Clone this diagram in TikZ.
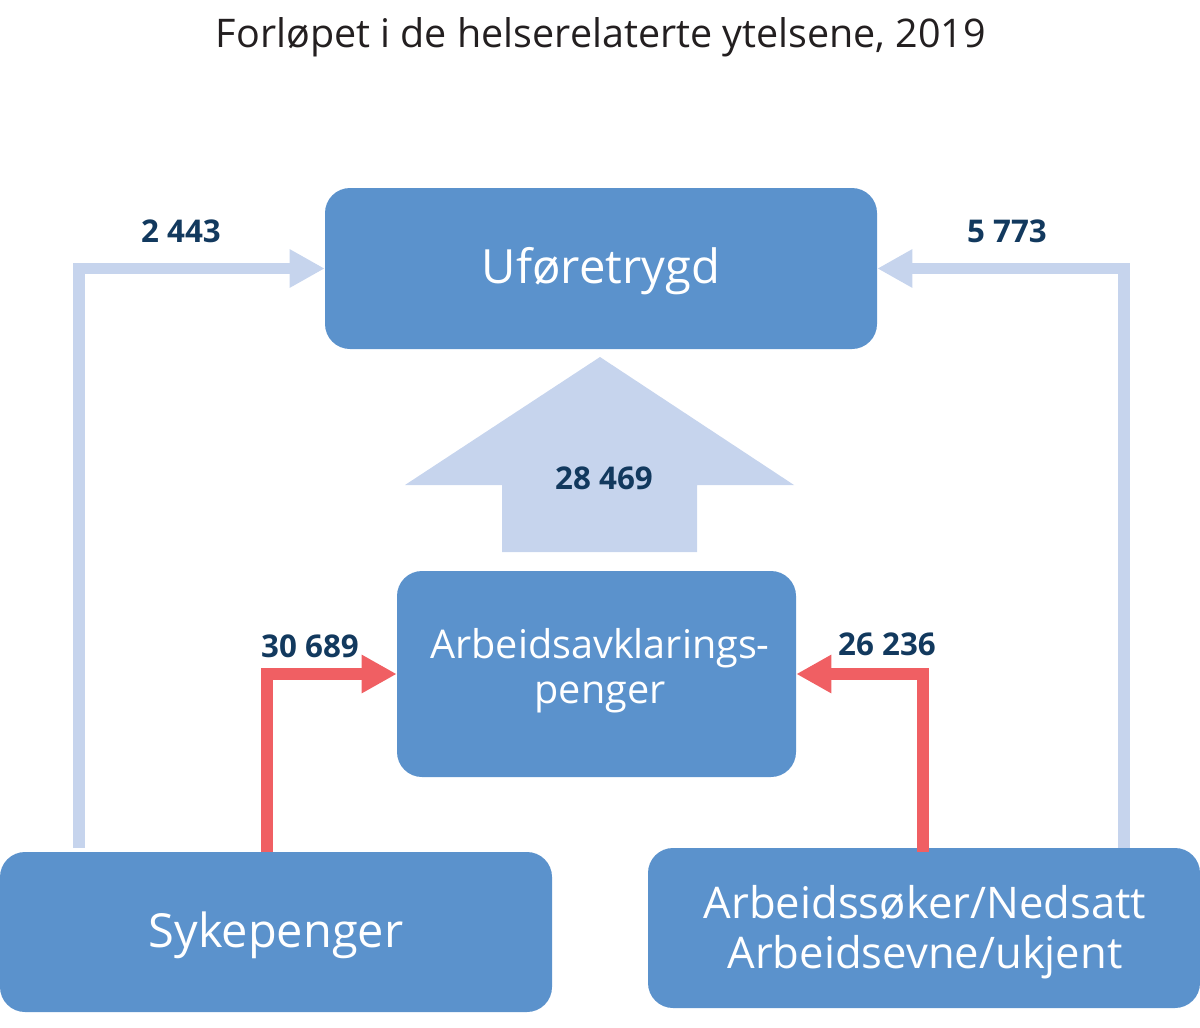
\documentclass[tikz,border=0pt]{standalone}
\usepackage{fontspec}
\setmainfont{Open Sans}
\usetikzlibrary{arrows.meta}
\definecolor{boxblue}{RGB}{91,146,204}
\definecolor{lightarr}{RGB}{198,212,237}
\definecolor{redarr}{RGB}{240,95,99}
\definecolor{navy}{RGB}{18,57,94}
\definecolor{titlegray}{RGB}{35,31,32}
\tikzset{
  box/.style={fill=boxblue, rounded corners=18.75pt, text=white, align=center, inner sep=0pt},
  numlabel/.style={text=navy, font=\fontsize{23.5}{28}\selectfont\bfseries, inner sep=0pt},
  lightflow/.style={draw=lightarr, line width=8.5pt, line join=miter,
     -{Triangle[length=26.25pt,width=27pt]}},
  redflow/.style={draw=redarr, line width=8.5pt, line join=miter,
     -{Triangle[length=26.25pt,width=27pt]}},
}
\begin{document}
\begin{tikzpicture}[x=0.75pt,y=-0.75pt]
\useasboundingbox (0,0) rectangle (1200,1028);
% title
\node[text=titlegray, font=\fontsize{29.6}{35}\selectfont, inner sep=0pt] (title) at (601,37) {Forløpet i de helserelaterte ytelsene, 2019};
% boxes
\node[box, minimum width=414pt, minimum height=120.75pt] (uf) at (601,268.5) {};
\node[text=white, font=\fontsize{35.4}{42}\selectfont, inner sep=0pt] (uft) at (601,271) {Uføretrygd};
\node[box, minimum width=299.25pt, minimum height=154.5pt] (aap) at (596.5,674) {};
\node[text=white, align=center, font=\fontsize{29.7}{34}\selectfont, inner sep=0pt] (aapt) at (600,671) {Arbeidsavklarings-\\penger};
\node[box, minimum width=414pt, minimum height=120pt] (syk) at (276,932) {};
\node[text=white, font=\fontsize{35.2}{42}\selectfont, inner sep=0pt] (sykt) at (276,935) {Sykepenger};
\node[box, minimum width=414pt, minimum height=120pt] (arb) at (924,928) {};
\node[text=white, align=center, font=\fontsize{32.7}{38}\selectfont, inner sep=0pt] (arbt) at (925,932) {Arbeidssøker/Nedsatt\\Arbeidsevne/ukjent};
% start points of connectors
\coordinate (sL) at (79,848);
\coordinate (sR) at (1124,848);
\coordinate (rL) at (267,852);
\coordinate (rR) at (923,852);
% connectors
\draw[lightflow] (sL) |- (uf.west);
\draw[lightflow] (sR) |- (uf.east);
\draw[redflow] (rL) |- (aap.west);
\draw[redflow] (rR) |- (aap.east);
% big arrow
\fill[lightarr] (600,357) -- (794,485) -- (697,485) -- (697,552) -- (502,552) -- (502,485) -- (405,485) -- cycle;
% labels
\node[numlabel] (n1) at (181,231) {2 443};
\node[numlabel] (n2) at (1007,231) {5 773};
\node[numlabel] (n3) at (310,646) {30 689};
\node[numlabel] (n4) at (887,644) {26 236};
\node[numlabel] (n5) at (604,478) {28 469};
\end{tikzpicture}
\end{document}
